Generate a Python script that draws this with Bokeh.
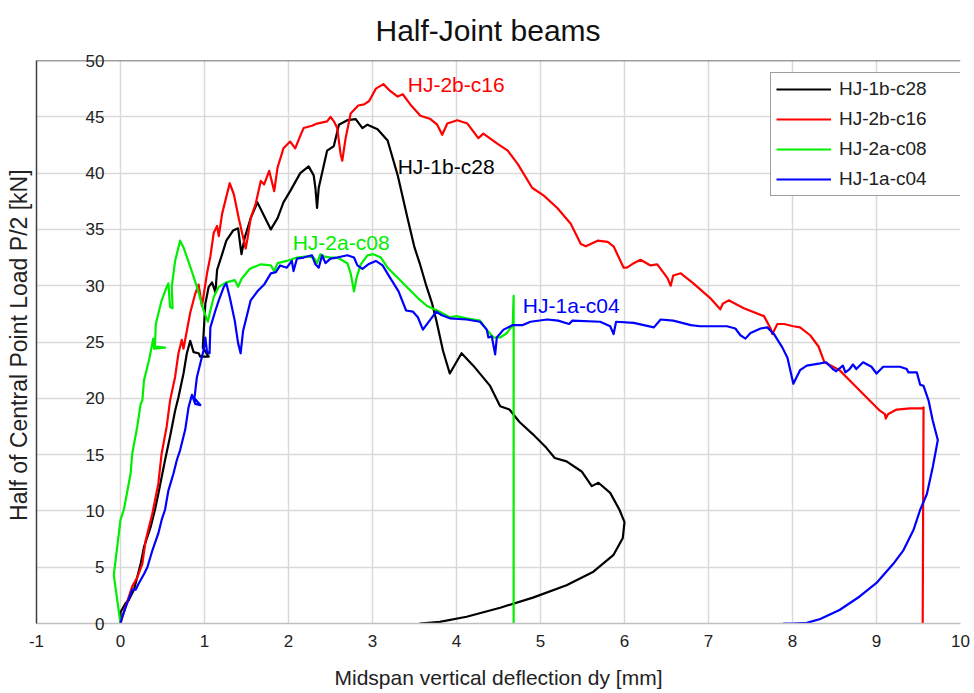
from bokeh.plotting import figure
from bokeh.models import (ColumnDataSource, LabelSet, Legend, LegendItem, Span,
                          FixedTicker, Range1d)
from bokeh.core.properties import value
from bokeh.embed import file_html
from bokeh.resources import INLINE

FONT = "Liberation Sans"

# ---------------- data ----------------
x_ticks = [-1, 0, 1, 2, 3, 4, 5, 6, 7, 8, 9, 10]
y_ticks = [0, 5, 10, 15, 20, 25, 30, 35, 40, 45, 50]

series_names = ["HJ-1b-c28", "HJ-2b-c16", "HJ-2a-c08", "HJ-1a-c04"]
series_colors = ["#000000", "#ff0000", "#00ee00", "#0000ff"]

hj1b_x = [0, 0.0, 0.06, 0.1, 0.16, 0.24, 0.28, 0.36, 0.41, 0.45, 0.53, 0.59, 0.65, 0.69,
          0.75, 0.79, 0.83, 0.87, 0.93, 0.95, 1.05, 0.98, 1.01, 1.05, 1.09, 1.13, 1.15,
          1.21, 1.26, 1.34, 1.40, 1.44, 1.48, 1.55, 1.63, 1.71, 1.79, 1.87, 1.94, 2.02,
          2.14, 2.24, 2.30, 2.32, 2.34, 2.36, 2.46, 2.54, 2.60, 2.70, 2.80, 2.88, 2.94,
          3.06, 3.18, 3.30, 3.42, 3.50, 3.57, 3.64, 3.71, 3.76, 3.84, 3.92, 4.06, 4.20,
          4.40, 4.52, 4.63, 4.75, 4.91, 5.07, 5.17, 5.31, 5.49, 5.61, 5.69, 5.83, 5.94,
          6.00, 5.98, 5.87, 5.63, 5.31, 4.91, 4.52, 4.12, 3.80, 3.56]
hj1b_y = [0, 1.0, 1.8, 2.1, 3.0, 5.3, 6.8, 8.6, 10.1, 11.5, 14.5, 16.6, 18.9, 20.1,
          22.2, 24.0, 25.1, 24.1, 24.0, 23.7, 23.7, 24.5, 28.4, 29.9, 30.3, 29.4, 31.4,
          32.8, 34.0, 34.9, 35.1, 32.8, 34.3, 36.0, 37.4, 36.2, 35.0, 36.0, 37.4, 38.4,
          40.0, 40.6, 39.8, 38.7, 36.9, 38.7, 42.0, 42.4, 44.3, 44.7, 44.8, 44.0, 44.3,
          43.9, 42.9, 39.8, 35.9, 33.4, 31.8, 30.0, 28.4, 26.9, 24.2, 22.2, 24.0, 22.9,
          21.1, 19.3, 19.0, 17.9, 16.8, 15.6, 14.7, 14.4, 13.5, 12.2, 12.5, 11.6, 10.1,
          9.0, 7.6, 6.1, 4.6, 3.4, 2.3, 1.4, 0.6, 0.15, 0]

hj2b_x = [0, 0.06, 0.14, 0.20, 0.26, 0.30, 0.38, 0.45, 0.49, 0.55, 0.59, 0.65, 0.69, 0.73,
          0.75, 0.83, 0.89, 0.93, 0.97, 1.03, 1.07, 1.11, 1.15, 1.17, 1.21, 1.25, 1.30,
          1.35, 1.41, 1.49, 1.51, 1.55, 1.61, 1.67, 1.71, 1.77, 1.83, 1.87, 1.94, 2.02,
          2.08, 2.14, 2.18, 2.28, 2.34, 2.46, 2.50, 2.54, 2.58, 2.62, 2.64, 2.68, 2.74,
          2.83, 2.90, 2.96, 3.04, 3.13, 3.21, 3.30, 3.36, 3.45, 3.57, 3.69, 3.77, 3.83,
          3.89, 4.01, 4.13, 4.26, 4.32, 4.49, 4.61, 4.73, 4.90, 5.04, 5.20, 5.36, 5.48,
          5.54, 5.68, 5.80, 5.87, 5.99, 6.03, 6.11, 6.19, 6.31, 6.39, 6.51, 6.55, 6.58,
          6.67, 6.82, 7.02, 7.14, 7.17, 7.24, 7.42, 7.66, 7.74, 7.76, 7.82, 7.90, 8.01,
          8.09, 8.21, 8.31, 8.38, 8.46, 8.56, 8.72, 8.88, 9.04, 9.10, 9.11, 9.14, 9.24,
          9.40, 9.54, 9.56, 9.55]
hj2b_y = [0, 1.5, 3.3, 4.1, 5.3, 7.4, 9.8, 12.4, 15.1, 17.5, 19.8, 21.9, 24.0, 25.2,
          24.4, 27.6, 29.3, 30.1, 28.2, 31.1, 32.6, 34.7, 35.3, 34.4, 36.4, 37.6, 39.1,
          38.1, 35.9, 33.3, 34.1, 36.0, 37.3, 39.3, 39.0, 40.2, 38.4, 40.5, 42.2, 42.8,
          42.2, 43.3, 44.0, 44.2, 44.4, 44.6, 45.0, 44.6, 44.0, 41.7, 41.1, 43.1, 45.3,
          46.0, 46.1, 46.4, 47.5, 47.9, 47.3, 46.8, 47.0, 46.1, 45.1, 44.8, 44.3, 43.4,
          44.4, 44.7, 44.4, 43.1, 43.5, 42.6, 42.0, 40.8, 38.7, 38.0, 36.9, 35.5, 33.7,
          33.5, 34.0, 33.9, 33.5, 31.6, 31.6, 32.0, 32.3, 31.8, 31.9, 30.7, 30.0, 30.9,
          31.1, 30.2, 28.9, 27.9, 28.4, 28.7, 28.0, 27.3, 26.2, 25.7, 26.6, 26.6, 26.4,
          26.3, 25.6, 24.6, 23.2, 22.9, 22.5, 21.3, 20.1, 18.9, 18.6, 18.2, 18.6, 19.0,
          19.1, 19.1, 19.2, 0]

hj2a_x = [0, -0.08, 0.0, 0.04, 0.12, 0.14, 0.20, 0.24, 0.26, 0.28, 0.34, 0.39, 0.40, 0.53,
          0.41, 0.42, 0.45, 0.49, 0.55, 0.57, 0.59, 0.62, 0.61, 0.65, 0.71, 0.75, 0.83,
          0.91, 0.99, 1.04, 1.07, 1.11, 1.17, 1.26, 1.36, 1.40, 1.44, 1.54, 1.67, 1.79,
          1.83, 1.87, 1.98, 2.10, 2.22, 2.30, 2.34, 2.38, 2.42, 2.50, 2.58, 2.70, 2.74,
          2.78, 2.81, 2.86, 2.94, 3.01, 3.10, 3.18, 3.30, 3.42, 3.54, 3.65, 3.77, 3.92,
          4.00, 4.12, 4.28, 4.36, 4.44, 4.52, 4.60, 4.67, 4.68, 4.68]
hj2a_y = [0, 4.3, 9.2, 10.1, 13.3, 15.1, 17.5, 19.5, 19.8, 21.6, 23.4, 25.3, 24.4, 24.5,
          24.6, 26.6, 27.5, 28.7, 29.9, 30.2, 28.1, 28.0, 29.9, 32.2, 34.0, 33.4, 31.7,
          29.9, 27.8, 26.8, 27.8, 29.0, 29.9, 30.3, 30.5, 29.9, 30.6, 31.5, 31.9, 31.8,
          31.3, 32.0, 32.2, 32.5, 32.6, 32.5, 32.0, 32.8, 32.6, 32.5, 32.5, 32.0, 31.1,
          29.5, 30.7, 31.9, 32.7, 32.8, 32.5, 31.6, 30.7, 29.8, 28.9, 28.2, 27.8, 27.2,
          27.3, 27.1, 26.9, 26.1, 25.4, 25.4, 25.8, 26.5, 29.1, 0]

hj1a_x = [0, 0.02, 0.08, 0.14, 0.18, 0.22, 0.28, 0.32, 0.38, 0.45, 0.49, 0.53, 0.57, 0.63,
          0.67, 0.71, 0.77, 0.81, 0.85, 0.89, 0.95, 0.88, 0.91, 0.95, 0.99, 1.01, 1.03,
          1.06, 1.07, 1.13, 1.17, 1.23, 1.26, 1.30, 1.36, 1.40, 1.43, 1.46, 1.50, 1.55,
          1.63, 1.71, 1.79, 1.85, 1.90, 1.98, 2.04, 2.06, 2.10, 2.18, 2.28, 2.32, 2.36,
          2.40, 2.44, 2.50, 2.58, 2.70, 2.78, 2.82, 2.88, 2.95, 3.04, 3.12, 3.21, 3.31,
          3.40, 3.48, 3.54, 3.60, 3.68, 3.76, 3.82, 3.92, 4.12, 4.28, 4.36, 4.38, 4.42,
          4.46, 4.48, 4.56, 4.67, 4.79, 4.88, 5.08, 5.21, 5.34, 5.38, 5.71, 5.83, 5.87,
          5.90, 6.11, 6.35, 6.43, 6.58, 6.79, 6.90, 7.22, 7.32, 7.38, 7.44, 7.50, 7.62,
          7.70, 7.78, 7.88, 7.94, 8.01, 8.09, 8.17, 8.33, 8.40, 8.48, 8.52, 8.60, 8.63,
          8.68, 8.72, 8.76, 8.84, 8.94, 9.00, 9.08, 9.28, 9.36, 9.38, 9.48, 9.52, 9.56,
          9.62, 9.67, 9.73, 9.67, 9.60, 9.52, 9.44, 9.32, 9.20, 9.00, 8.80, 8.56, 8.33,
          8.17, 8.00, 7.89]
hj1a_y = [0, 0.6, 1.8, 3.0, 3.0, 3.6, 4.4, 5.0, 6.5, 8.0, 9.2, 10.1, 11.8, 13.3,
          14.5, 15.4, 17.2, 19.2, 20.3, 19.5, 19.4, 20.0, 21.9, 23.1, 24.3, 25.4, 24.1,
          24.0, 26.3, 27.8, 28.7, 29.9, 30.2, 29.0, 26.9, 24.9, 24.0, 26.0, 27.2, 28.7,
          29.5, 30.1, 31.1, 31.2, 31.8, 31.6, 32.2, 31.3, 32.4, 32.5, 32.7, 31.9, 31.6,
          32.7, 32.0, 32.4, 32.5, 32.7, 32.5, 31.8, 31.5, 31.9, 32.2, 31.8, 30.7, 29.5,
          27.8, 27.7, 27.2, 26.1, 26.9, 27.7, 27.4, 27.1, 27.0, 26.8, 26.1, 25.4, 25.5,
          23.9, 25.4, 26.1, 26.5, 26.5, 26.8, 27.0, 26.9, 26.6, 26.9, 26.8, 26.4, 25.7,
          26.8, 26.7, 26.3, 27.0, 26.9, 26.5, 26.4, 26.4, 26.2, 25.6, 25.3, 25.8, 26.2,
          26.3, 25.7, 24.5, 23.6, 21.3, 22.5, 22.9, 23.1, 23.2, 22.6, 22.4, 22.9, 22.3,
          22.6, 23.0, 22.6, 23.2, 22.8, 22.2, 22.8, 22.8, 22.6, 22.3, 22.3, 21.2, 21.1,
          19.8, 18.0, 16.3, 13.9, 11.5, 10.1, 8.3, 6.5, 5.3, 3.6, 2.4, 1.2, 0.4,
          0.06, 0, 0]

# in-chart series labels
label_text = ["HJ-2b-c16", "HJ-1b-c28", "HJ-2a-c08", "HJ-1a-c04"]
label_x = [3.42, 3.30, 2.05, 4.79]
label_y = [47.9, 40.6, 33.8, 28.2]
label_color = ["#ff0000", "#000000", "#00ee00", "#0000ff"]

# ---------------- figure ----------------
p = figure(width=974, height=693, x_range=Range1d(-1, 10), y_range=Range1d(0, 50),
           output_backend="svg", toolbar_location=None, title="Half-Joint beams",
           min_border_left=36, min_border_right=14, min_border_bottom=70,
           min_border_top=60)
p.outline_line_color = None
p.background_fill_color = "white"

p.title.text_font = FONT
p.title.text_font_size = "30px"
p.title.text_font_style = "normal"
p.title.text_color = "#111111"
p.title.align = "left"
p.title.offset = 339
p.title.standoff = 24
p.title.vertical_align = "top"

TXT = "#222222"
# x axis
xa = p.below[0]
xa.ticker = FixedTicker(ticks=x_ticks)
xa.major_label_overrides = {-1: "-1"}
xa.major_tick_out = 0
xa.major_tick_in = 0
xa.minor_tick_out = 0
xa.minor_tick_in = 0
xa.axis_line_color = "#c0c0c0"
xa.axis_line_width = 1.5
xa.major_label_text_font = FONT
xa.major_label_text_font_size = "17px"
xa.major_label_text_color = TXT
xa.major_label_standoff = 11
xa.axis_label = "Midspan vertical deflection dy [mm]"
xa.axis_label_text_font = FONT
xa.axis_label_text_font_size = "21px"
xa.axis_label_text_font_style = "normal"
xa.axis_label_text_color = TXT
xa.axis_label_standoff = 16

# y axis: line at x=-1; its tick labels pulled inside, next to x=0, as in the reference
ya = p.left[0]
ya.ticker = FixedTicker(ticks=y_ticks)
ya.major_tick_out = 0
ya.major_tick_in = 0
ya.minor_tick_out = 0
ya.minor_tick_in = 0
ya.major_label_text_font = FONT
ya.major_label_text_font_size = "17px"
ya.major_label_text_color = TXT
ya.major_label_standoff = -68
ya.axis_line_color = "#404040"
ya.axis_line_width = 1.5
ya.axis_label = "Half of Central Point Load  P/2 [kN]"
ya.axis_label_text_font = FONT
ya.axis_label_text_font_size = "23px"
ya.axis_label_text_font_style = "normal"
ya.axis_label_text_color = TXT
ya.axis_label_standoff = 51

p.xgrid.ticker = FixedTicker(ticks=x_ticks)
p.ygrid.ticker = FixedTicker(ticks=y_ticks)
for g in (p.xgrid, p.ygrid):
    g.grid_line_color = "#d9d9d9"
    g.grid_line_width = 1.5

p.add_layout(Span(location=50, dimension="width", line_color="#404040", line_width=1.5))

# ---------------- series ----------------
xs = [hj1b_x, hj2b_x, hj2a_x, hj1a_x]
ys = [hj1b_y, hj2b_y, hj2a_y, hj1a_y]
items = []
for name, col, x, y in zip(series_names, series_colors, xs, ys):
    r = p.line(x, y, line_color=col, line_width=2.2, line_join="round")
    items.append(LegendItem(label=name, renderers=[r]))

lab_src = ColumnDataSource(dict(x=label_x, y=label_y, text=label_text, color=label_color))
p.add_layout(LabelSet(x="x", y="y", text="text", source=lab_src, text_color="color",
                      text_align="left", text_baseline="middle",
                      text_font=value(FONT), text_font_size=value("21px")))

legend = Legend(items=items, location=(734, 427))
legend.label_text_font = FONT
legend.label_text_font_size = "19px"
legend.label_text_color = TXT
legend.glyph_width = 55
legend.glyph_height = 22
legend.label_height = 22
legend.label_width = 149
legend.label_standoff = 8
legend.spacing = 8
legend.padding = 5
legend.margin = 0
legend.border_line_color = "#404040"
legend.border_line_width = 1.5
legend.background_fill_color = "white"
legend.background_fill_alpha = 1.0
p.add_layout(legend)

open("out.html", "w").write(file_html(p, INLINE))
